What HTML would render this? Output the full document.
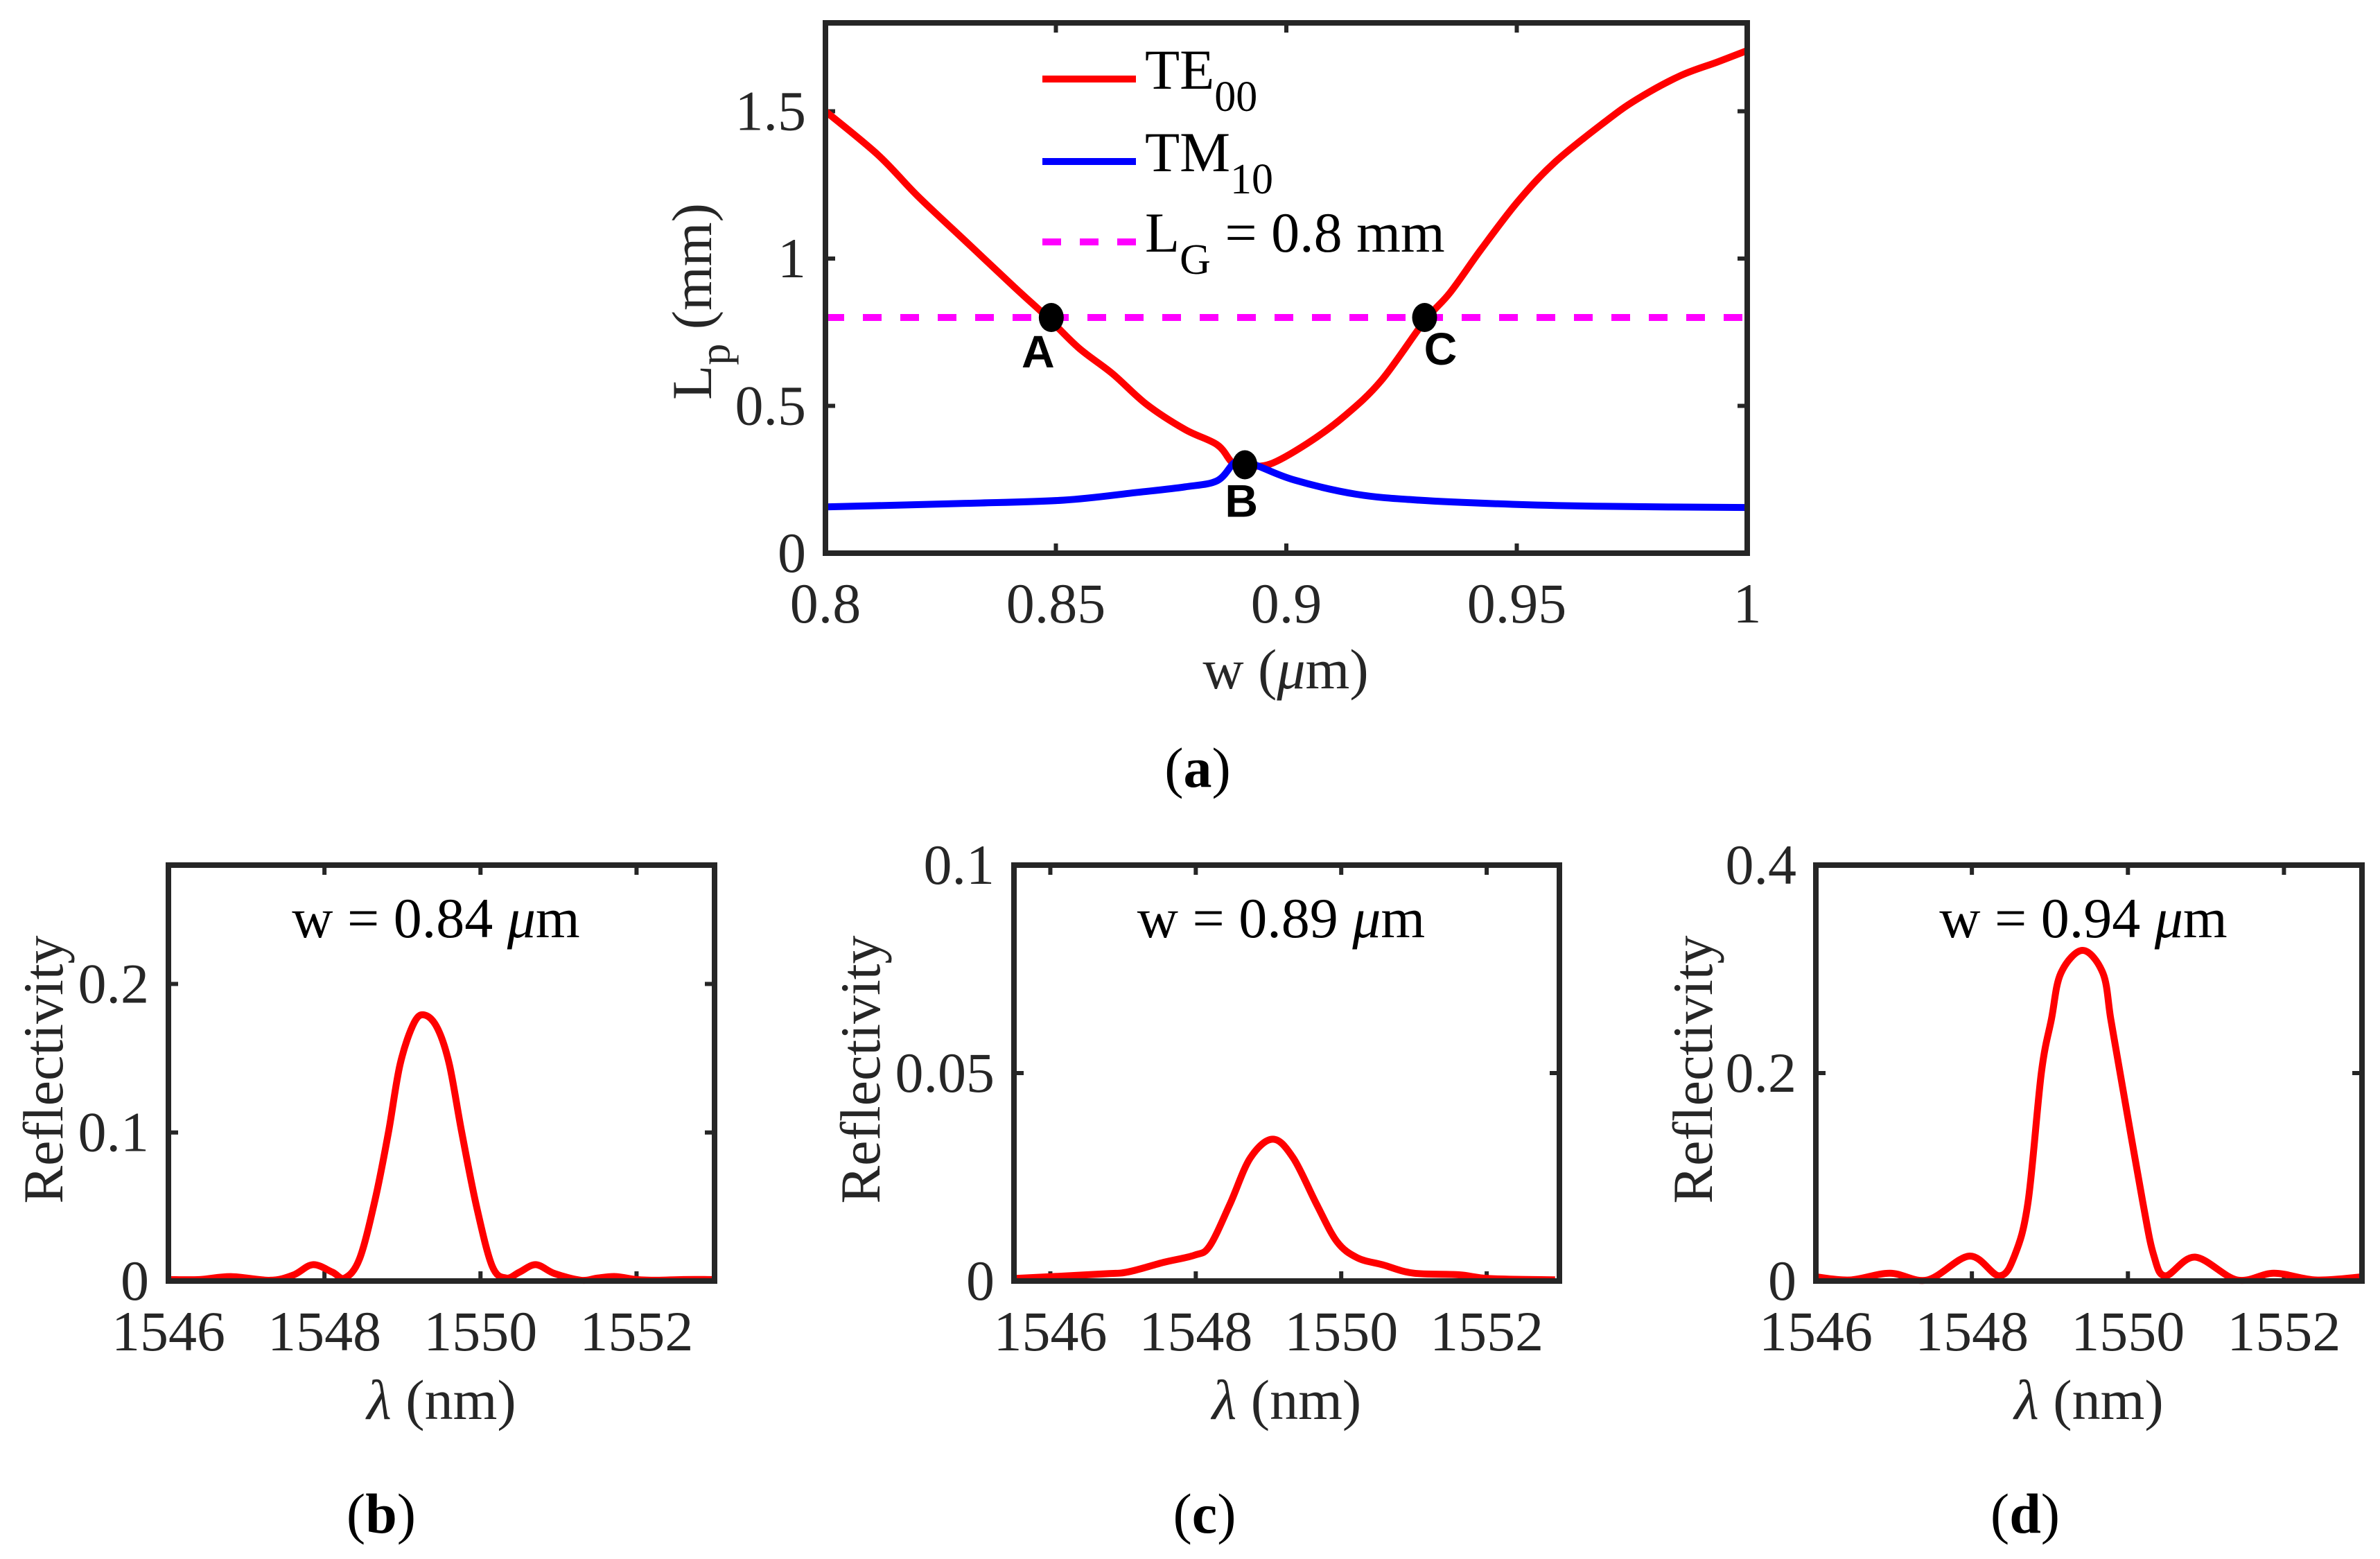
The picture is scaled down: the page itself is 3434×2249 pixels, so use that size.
<!DOCTYPE html>
<html><head><meta charset="utf-8"><style>
html,body{margin:0;padding:0;background:#fff;}
svg{display:block;font-family:"Liberation Serif",serif;}
</style></head><body>
<svg id="fig" width="3434" height="2249" viewBox="0 0 3434 2249" xmlns="http://www.w3.org/2000/svg"></svg>
<script>
// ---------- Panel (a) data ----------
const teW = [0.8,0.8114,0.8199,0.8304,0.841,0.8484,0.855,0.8623,0.8696,0.878,0.885,0.8883,0.891,0.8964,0.9045,0.9125,0.9206,0.930,0.9355,0.9423,0.9503,0.9584,0.9692,0.976,0.9854,0.9935,1.0];
const teL = [1.50,1.352,1.214,1.059,0.903,0.797,0.696,0.609,0.506,0.42,0.368,0.307,0.298,0.302,0.372,0.464,0.586,0.788,0.884,1.032,1.195,1.329,1.465,1.54,1.62,1.667,1.706];
const tmW = [0.8,0.8304,0.8517,0.8675,0.878,0.885,0.8887,0.891,0.8937,0.9018,0.9152,0.9287,0.949,0.9692,1.0];
const tmL = [0.157,0.169,0.18,0.206,0.225,0.246,0.307,0.31,0.297,0.248,0.2,0.18,0.166,0.159,0.155];
const lgValue = 0.8;
const markerNames = ["A","B","C"];
const markerW = [0.849,0.891,0.930];
const markerL = [0.8,0.3,0.8];
const aXTicks = [0.8,0.85,0.9,0.95,1];
const aXTickLabels = ["0.8","0.85","0.9","0.95","1"];
const aYTicks = [0,0.5,1,1.5];
const aYTickLabels = ["0","0.5","1","1.5"];
// ---------- Panel (b) ----------
const bLam = [1546.0,1546.4,1546.8,1547.3,1547.6,1547.85,1548.1,1548.26,1548.45,1548.65,1548.82,1548.97,1549.15,1549.29,1549.45,1549.6,1549.76,1549.95,1550.15,1550.33,1550.5,1550.71,1550.95,1551.29,1551.5,1551.73,1552.0,1552.26,1552.6,1553.0];
const bR = [0.001,0.001,0.003,0.0005,0.004,0.011,0.006,0.002,0.015,0.055,0.1,0.146,0.174,0.179,0.17,0.146,0.1,0.05,0.01,0.002,0.006,0.011,0.005,0.0005,0.002,0.003,0.001,0.0005,0.001,0.001];
// ---------- Panel (c) ----------
const cLam = [1545.5,1546.72,1547.07,1547.56,1547.98,1548.19,1548.47,1548.75,1549.06,1549.34,1549.66,1549.94,1550.22,1550.57,1550.99,1551.62,1552.03,1552.94];
const cR = [0.0006,0.0017,0.0022,0.0045,0.0062,0.0084,0.0185,0.0296,0.0341,0.0296,0.0185,0.0095,0.0056,0.0039,0.0019,0.0015,0.0006,0.0003];
// ---------- Panel (d) ----------
const dLam = [1546.0,1546.44,1546.95,1547.43,1547.97,1548.35,1548.55,1548.72,1548.89,1549.02,1549.14,1549.42,1549.68,1549.78,1549.9,1550.19,1550.33,1550.48,1550.86,1551.4,1551.87,1552.41,1553.0];
const dR = [0.004,0.001,0.0075,0.001,0.024,0.005,0.025,0.076,0.2,0.252,0.296,0.318,0.296,0.252,0.2,0.076,0.025,0.005,0.023,0.001,0.0075,0.001,0.004];
const lamTicks = [1546,1548,1550,1552];
const lamTickLabels = ["1546","1548","1550","1552"];
const bYTicks=[0,0.1,0.2], bYLabels=["0","0.1","0.2"];
const cYTicks=[0,0.05,0.1], cYLabels=["0","0.05","0.1"];
const dYTicks=[0,0.2,0.4], dYLabels=["0","0.2","0.4"];

const NS="http://www.w3.org/2000/svg";
const svg=document.getElementById('fig');
function mk(tag,attrs,parent,text){const e=document.createElementNS(NS,tag);for(const k in attrs)e.setAttribute(k,attrs[k]);if(text!==undefined)e.textContent=text;(parent||svg).appendChild(e);return e;}
function lin(d0,d1,r0,r1){return v=>r0+(v-d0)/(d1-d0)*(r1-r0);}
function smoothPath(xs,ys){let d=`M${xs[0]},${ys[0]}`;for(let i=0;i<xs.length-1;i++){const i0=Math.max(0,i-1),i3=Math.min(xs.length-1,i+2);const c1x=xs[i]+(xs[i+1]-xs[i0])/6,c1y=ys[i]+(ys[i+1]-ys[i0])/6;const c2x=xs[i+1]-(xs[i3]-xs[i])/6,c2y=ys[i+1]-(ys[i3]-ys[i])/6;d+=` C${c1x},${c1y} ${c2x},${c2y} ${xs[i+1]},${ys[i+1]}`;}return d;}

function axes(g,L,R,T,B,xs,ys,xt,xtl,yt,ytl,name){
  const tc="#262626";
  xt.forEach((v,i)=>{const x=xs(v);
    const t=mk('line',{x1:x,y1:B,x2:x,y2:B-14,stroke:tc,'stroke-width':6},g);
    
    const t2=mk('line',{x1:x,y1:T,x2:x,y2:T+14,stroke:tc,'stroke-width':6},g);
    
    const lb=mk('text',{x:x,y:B+100,'text-anchor':'middle','font-size':82,fill:tc},g,xtl[i]);
    });
  yt.forEach((v,i)=>{const y=ys(v);
    const t=mk('line',{x1:L,y1:y,x2:L+14,y2:y,stroke:tc,'stroke-width':6},g);
    
    const t2=mk('line',{x1:R,y1:y,x2:R-14,y2:y,stroke:tc,'stroke-width':6},g);
    
    const lb=mk('text',{x:L-28,y:y+27,'text-anchor':'end','font-size':82,fill:tc},g,ytl[i]);
    });
}
function box(g,L,R,T,B,name){const r=mk('rect',{x:L,y:T,width:R-L,height:B-T,fill:'none',stroke:'#262626','stroke-width':8},g);
  }

// ===== Panel (a) =====
(function(){
  const L=1191,R=2521,T=33,B=798;
  const g=mk('g',{});
  const xs=lin(0.8,1.0,L,R), ys=lin(0,1.8,B,T);
  axes(g,L,R,T,B,xs,ys,aXTicks,aXTickLabels,aYTicks,aYTickLabels,'panel-a');
  const lg=mk('line',{x1:L,y1:ys(lgValue),x2:R,y2:ys(lgValue),stroke:'#ff00ff','stroke-width':10,'stroke-dasharray':'27 27'},g);
  
  const te=mk('path',{d:smoothPath(teW.map(xs),teL.map(ys)),fill:'none',stroke:'#ff0000','stroke-width':10,'stroke-linejoin':'round'},g);
  
  const tm=mk('path',{d:smoothPath(tmW.map(xs),tmL.map(ys)),fill:'none',stroke:'#0000ff','stroke-width':10,'stroke-linejoin':'round'},g);
  
  const off=[[-19,72],[-5,75],[23,68]];
  markerW.forEach((w,i)=>{
    const c=mk('ellipse',{cx:xs(w),cy:ys(markerL[i]),rx:18,ry:21,fill:'#000'},g);
    
    const t=mk('text',{x:xs(w)+off[i][0],y:ys(markerL[i])+off[i][1],'text-anchor':'middle','font-size':66,'font-weight':'bold','font-family':'Liberation Sans, sans-serif',fill:'#000'},g,markerNames[i]);
    
  });
  box(g,L,R,T,B,'panel-a');
  const leg=mk('g',{},g);
  const rows=[{y:114,c:'#ff0000',d:'',m:'TE',s:'00',rest:''},{y:233,c:'#0000ff',d:'',m:'TM',s:'10',rest:''},{y:349,c:'#ff00ff',d:'27 27',m:'L',s:'G',rest:' = 0.8 mm'}];
  rows.forEach((r,i)=>{
    const e=mk('g',{},leg);
    mk('line',{x1:1504,y1:r.y,x2:1639,y2:r.y,stroke:r.c,'stroke-width':10,'stroke-dasharray':r.d||'none'},e);
    const t=mk('text',{x:1652,y:r.y+14,'font-size':82,fill:'#000'},e);
    mk('tspan',{},t,r.m);
    mk('tspan',{dy:32,'font-size':62},t,r.s);
    if(r.rest){mk('tspan',{dy:-32,'font-size':82},t,r.rest);}
  });
  const xl=mk('text',{x:1855,y:993,'text-anchor':'middle','font-size':82,fill:'#262626'},g);
  
  mk('tspan',{},xl,'w (');mk('tspan',{'font-style':'italic'},xl,'μ');mk('tspan',{},xl,'m)');
  const yl=mk('text',{transform:'translate(1026,435) rotate(-90)','text-anchor':'middle','font-size':82,fill:'#262626'},g);
  
  mk('tspan',{},yl,'L');mk('tspan',{dy:26,'font-size':62},yl,'p');mk('tspan',{dy:-26},yl,' (mm)');
  const cap=mk('text',{x:1728,y:1135,'text-anchor':'middle','font-size':82,fill:'#000'},g);
  
  mk('tspan',{},cap,'(');mk('tspan',{'font-weight':'bold'},cap,'a');mk('tspan',{},cap,')');
})();

// ===== bottom panels =====
function spectrum(o){
  const T=1248,B=1848;
  const g=mk('g',{});
  const xs=lin(o.x0,1553,o.L,o.R), ys=lin(0,o.ymax,B,T);
  axes(g,o.L,o.R,T,B,xs,ys,lamTicks,lamTickLabels,o.yt,o.ytl,'panel-'+o.id);
  const p=mk('path',{d:smoothPath(o.lam.map(xs),o.r.map(ys)),fill:'none',stroke:'#ff0000','stroke-width':10,'stroke-linejoin':'round'},g);
  
  box(g,o.L,o.R,T,B,'panel-'+o.id);
  const cx=(o.L+o.R)/2;
  const tt=mk('text',{x:cx-8,y:1352,'text-anchor':'middle','font-size':82,fill:'#000'},g);
  
  mk('tspan',{},tt,'w = '+o.w+' ');mk('tspan',{'font-style':'italic'},tt,'μ');mk('tspan',{},tt,'m');
  const xl=mk('text',{x:cx,y:2047,'text-anchor':'middle','font-size':82,fill:'#262626'},g);
  
  mk('tspan',{'font-style':'italic'},xl,'λ');mk('tspan',{},xl,' (nm)');
  const yl=mk('text',{transform:`translate(${o.yx+27},1543) rotate(-90)`,'text-anchor':'middle','font-size':82,fill:'#262626'},g,'Reflectivity');
  
  const cap=mk('text',{x:o.capx,y:2211,'text-anchor':'middle','font-size':82,fill:'#000'},g);
  
  mk('tspan',{},cap,'(');mk('tspan',{'font-weight':'bold'},cap,o.id);mk('tspan',{},cap,')');
}
spectrum({id:'b',L:243,R:1031,x0:1546,ymax:0.28,lam:bLam,r:bR,yt:bYTicks,ytl:bYLabels,w:'0.84',yx:63,capx:550});
spectrum({id:'c',L:1463,R:2250,x0:1545.5,ymax:0.1,lam:cLam,r:cR,yt:cYTicks,ytl:cYLabels,w:'0.89',yx:1242,capx:1738});
spectrum({id:'d',L:2620,R:3408,x0:1546,ymax:0.4,lam:dLam,r:dR,yt:dYTicks,ytl:dYLabels,w:'0.94',yx:2443,capx:2922});
</script>
</body></html>
